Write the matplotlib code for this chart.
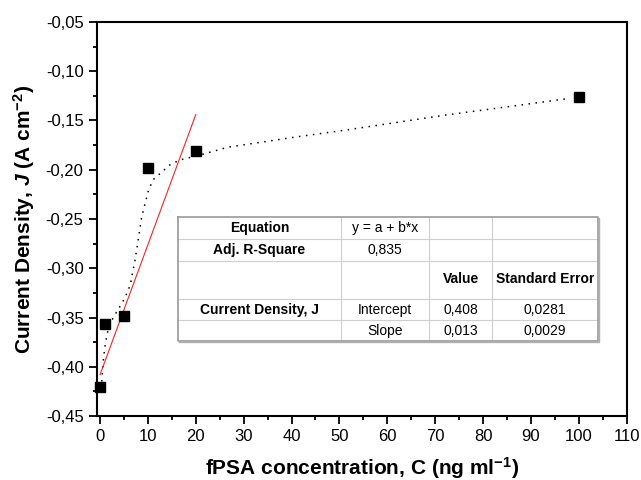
import numpy as np
import matplotlib.pyplot as plt
from matplotlib.ticker import MultipleLocator, FuncFormatter

plt.rcParams['font.family'] = ['Liberation Sans', 'DejaVu Sans']
plt.rcParams['mathtext.fontset'] = 'custom'
plt.rcParams['mathtext.rm'] = 'Liberation Sans'
plt.rcParams['mathtext.bf'] = 'Liberation Sans:bold'
plt.rcParams['mathtext.bfit'] = 'Liberation Sans:italic:bold'
plt.rcParams['mathtext.it'] = 'Liberation Sans:italic'

# measured points
conc = [0, 1, 5, 10, 20, 100]
current = [-0.421, -0.357, -0.348, -0.198, -0.181, -0.126]

# smoothed trend
curve_x = [0.35, 0.7, 1.0, 1.5, 2.2, 3.5, 4.5, 5.2, 6.3, 7.3, 8.7, 10.1, 11.1,
           12.5, 14.6, 16.7, 20.9, 26.8, 34.4, 41.2, 51.5, 72.3, 86.3, 98.1]
curve_y = [-0.415, -0.393, -0.380, -0.366, -0.355, -0.344, -0.336, -0.330, -0.317,
           -0.292, -0.248, -0.221, -0.210, -0.204, -0.195, -0.190, -0.185, -0.177,
           -0.1715, -0.1665, -0.1596, -0.1444, -0.1353, -0.1275]

# linear fit over the low-concentration range
fit_x = [0, 20]
fit_intercept = -0.408
fit_slope = 0.0132

table_rows = [
    ["Equation", "y = a + b*x", "", ""],
    ["Adj. R-Square", "0,835", "", ""],
    ["", "", "Value", "Standard Error"],
    ["Current Density, J", "Intercept", "0,408", "0,0281"],
    ["", "Slope", "0,013", "0,0029"],
]

W, H = 641, 480
fig = plt.figure(figsize=(W / 100, H / 100), dpi=100)
ax = fig.add_axes([96.7 / W, 1 - 416 / H, (626.7 - 96.7) / W, (416 - 22) / H])

ax.plot(curve_x, curve_y, color='black', lw=1.1, linestyle=(0, (1, 3.6)))
fx = np.array(fit_x, dtype=float)
ax.plot(fx, fit_intercept + fit_slope * fx, color='#ff2020', lw=0.8)
ax.plot(conc, current, 's', color='black', ms=7, clip_on=False, zorder=5)

ax.set_xlim(-0.7, 110)
ax.set_ylim(-0.45, -0.05)
ax.xaxis.set_major_locator(MultipleLocator(10))
ax.xaxis.set_minor_locator(MultipleLocator(5))
ax.yaxis.set_major_locator(MultipleLocator(0.05))
ax.yaxis.set_minor_locator(MultipleLocator(0.025))
ax.yaxis.set_major_formatter(FuncFormatter(lambda v, p: f"{v:.2f}".replace('.', ',')))
ax.tick_params(which='major', direction='out', length=6, width=1.3, labelsize=12)
ax.tick_params(which='minor', direction='out', length=3, width=1.3)
for s in ax.spines.values():
    s.set_linewidth(1.5)

ax.set_xlabel("fPSA concentration, C (ng ml$^{\\mathbf{-1}}$)", fontsize=15,
              fontweight='bold', labelpad=8)
ax.set_ylabel("Current Density, $\\mathbfit{J}$ (A cm$^{\\mathbf{-2}}$)", fontsize=15,
              fontweight='bold', labelpad=6)

# results table drawn in pixel coordinates
tx0, tx1, ty0, ty1 = 178.3, 597.7, 216.7, 341.0
tab = fig.add_axes([tx0 / W, 1 - ty1 / H, (tx1 - tx0) / W, (ty1 - ty0) / H])
tab.set_xlim(tx0, tx1)
tab.set_ylim(ty1, ty0)
tab.axis('off')
col_edges = [178.3, 340.7, 429.3, 492.3, 597.7]
row_edges = [216.7, 239.0, 260.7, 299.3, 320.3, 341.0]
for y in row_edges[1:-1]:
    tab.plot([tx0, tx1], [y, y], color='#cfcfcf', lw=0.8)
for x in col_edges[1:-1]:
    tab.plot([x, x], [ty0, ty1], color='#cfcfcf', lw=0.8)
tab.plot([tx0, tx1, tx1, tx0, tx0], [ty0, ty0, ty1, ty1, ty0], color='#9a9a9a', lw=1.2,
         clip_on=False)
tab.plot([tx0 + 1, tx1 + 1, tx1 + 1], [ty1 + 1, ty1 + 1, ty0 + 1], color='#b0b0b0', lw=1,
         clip_on=False)
bold_cells = {(0, 0), (1, 0), (2, 2), (2, 3), (3, 0)}
for i, row in enumerate(table_rows):
    yc = (row_edges[i] + row_edges[i + 1]) / 2
    if i == 2:
        yc = row_edges[i + 1] - 20
    for j, txt in enumerate(row):
        if not txt:
            continue
        xc = (col_edges[j] + col_edges[j + 1]) / 2
        tab.text(xc, yc, txt, ha='center', va='center', fontsize=10,
                 fontweight='bold' if (i, j) in bold_cells else 'normal')

fig.savefig('out.png', dpi=100)
